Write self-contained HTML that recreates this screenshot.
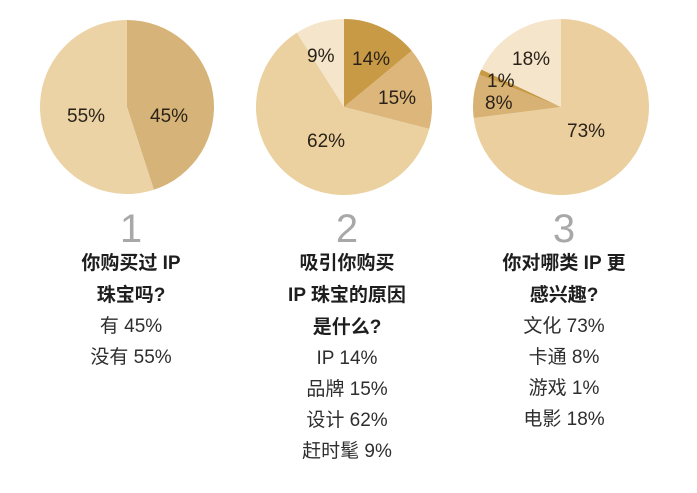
<!DOCTYPE html>
<html><head><meta charset="utf-8"><style>
html,body{margin:0;padding:0;background:#fff;width:697px;height:493px;overflow:hidden}
svg{position:absolute;left:0;top:0}
text{font-family:"Liberation Sans","Noto Sans CJK SC",sans-serif}
.p{font-size:19px;fill:#2a2218}
.n{font-size:40px;fill:#a8a8a8}
.t{font-size:19px;font-weight:bold;fill:#1e1e1e}
.i{font-size:19px;fill:#2e2e2e}
</style></head><body>
<svg id="s" width="697" height="493" viewBox="0 0 697 493"></svg>
<script>
const s=document.getElementById('s');let h='';
function pie(cx,cy,r,slices){let a=0;for(const [v,c] of slices){const a0=a*2*Math.PI,a1=(a+v)*2*Math.PI;a+=v;
const x0=cx+r*Math.sin(a0),y0=cy-r*Math.cos(a0),x1=cx+r*Math.sin(a1),y1=cy-r*Math.cos(a1);
h+=`<path d="M${cx},${cy}L${x0},${y0}A${r},${r} 0 ${v>0.5?1:0} 1 ${x1},${y1}Z" fill="${c}"/>`;}}
pie(127,107,87,[[.45,'#d6b378'],[.55,'#ecd3a6']]);
pie(344,107,88,[[.14,'#c99a45'],[.15,'#dcb67a'],[.62,'#ebd0a0'],[.09,'#f4e5cb']]);
pie(561,107,88,[[.73,'#ebcf9f'],[.08,'#d8b274'],[.01,'#c99a45'],[.18,'#f4e5cb']]);
const L=[[150,122,'45%'],[67,122,'55%'],[352,65,'14%'],[378,104,'15%'],[307,147,'62%'],[307,62,'9%'],[512,65,'18%'],[487,87,'1%'],[485,109,'8%'],[567,137,'73%']];
for(const [x,y,t] of L)h+=`<text class="p" x="${x}" y="${y}">${t}</text>`;
const cols=[[131,'1',['你购买过 IP','珠宝吗?'],['有 45%','没有 55%']],
[347,'2',['吸引你购买','IP 珠宝的原因','是什么?'],['IP 14%','品牌 15%','设计 62%','赶时髦 9%']],
[564,'3',['你对哪类 IP 更','感兴趣?'],['文化 73%','卡通 8%','游戏 1%','电影 18%']]];
for(const [x,n,t,it] of cols){h+=`<text class="n" x="${x}" y="242" text-anchor="middle">${n}</text>`;
let y=269;for(const l of t){h+=`<text class="t" x="${x}" y="${y}" text-anchor="middle">${l}</text>`;y+=32;}
y-=1;for(const l of it){h+=`<text class="i" x="${x}" y="${y}" text-anchor="middle">${l}</text>`;y+=31;}}
s.innerHTML=h;
</script>
</body></html>
